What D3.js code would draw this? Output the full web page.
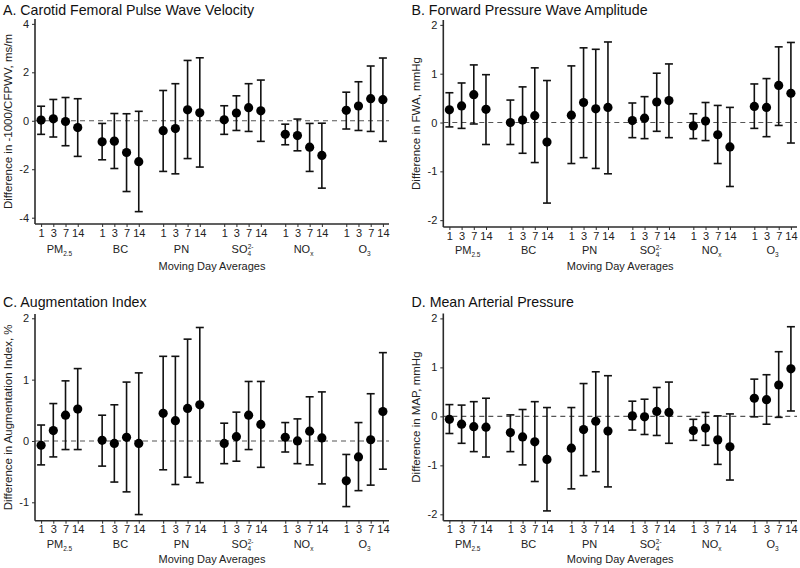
<!DOCTYPE html>
<html><head><meta charset="utf-8">
<script src="https://cdn.jsdelivr.net/npm/d3@7"></script>
<style>
body{margin:0;background:#fff;}
svg{display:block;font-family:"Liberation Sans",Arial,Helvetica,sans-serif;}
</style></head>
<body>
<svg id="chart" width="800" height="568"></svg>
<script>
// ---- data ----
const pollutants = ["PM2.5","BC","PN","SO4","NOx","O3"];
const lags = ["1","3","7","14"];
const yTicksA = [-4,-2,0,2,4];
const yTicksB = [-2,-1,0,1,2];
const yTicksC = [-1,0,1,2];
const yTicksD = [-2,-1,0,1,2];

const cfpwvEst = [0.03,0.08,-0.03,-0.28, -0.87,-0.84,-1.31,-1.69, -0.41,-0.32,0.45,0.33, 0.04,0.32,0.54,0.41, -0.56,-0.61,-1.09,-1.43, 0.43,0.61,0.91,0.87];
const cfpwvLo  = [-0.56,-0.67,-1.03,-1.47, -1.61,-1.97,-2.92,-3.75, -2.09,-2.19,-1.56,-1.91, -0.56,-0.40,-0.44,-0.85, -0.99,-1.24,-2.09,-2.78, -0.34,-0.40,-0.44,-0.85];
const cfpwvHi  = [0.60,0.88,0.96,0.91, -0.11,0.30,0.29,0.39, 1.25,1.53,2.49,2.60, 0.62,1.03,1.53,1.68, -0.14,0.07,-0.11,-0.10, 1.18,1.61,2.26,2.59];

const fwaEst = [0.26,0.34,0.57,0.27, 0.00,0.05,0.14,-0.40, 0.15,0.41,0.28,0.31, 0.04,0.09,0.42,0.45, -0.07,0.03,-0.25,-0.50, 0.33,0.31,0.76,0.60];
const fwaLo  = [-0.09,-0.12,-0.03,-0.45, -0.45,-0.63,-0.82,-1.65, -0.84,-0.72,-0.94,-1.05, -0.31,-0.33,-0.18,-0.31, -0.33,-0.37,-0.84,-1.31, -0.12,-0.29,-0.06,-0.42];
const fwaHi  = [0.61,0.81,1.18,0.98, 0.46,0.73,1.12,0.86, 1.16,1.53,1.50,1.65, 0.40,0.53,1.01,1.20, 0.18,0.41,0.35,0.31, 0.79,0.90,1.55,1.64];

const aixEst = [-0.07,0.17,0.42,0.52, 0.01,-0.04,0.06,-0.04, 0.45,0.33,0.53,0.59, -0.04,0.07,0.42,0.27, 0.06,0.00,0.16,0.05, -0.65,-0.26,0.02,0.48];
const aixLo  = [-0.39,-0.26,-0.14,-0.14, -0.41,-0.67,-0.83,-1.20, -0.47,-0.71,-0.59,-0.68, -0.37,-0.33,-0.14,-0.43, -0.18,-0.37,-0.39,-0.70, -1.07,-0.81,-0.72,-0.46];
const aixHi  = [0.26,0.61,0.98,1.18, 0.42,0.59,0.96,1.11, 1.38,1.38,1.66,1.85, 0.29,0.47,0.97,0.97, 0.30,0.36,0.72,0.80, -0.22,0.30,0.77,1.44];

const mapEst = [-0.06,-0.16,-0.21,-0.22, -0.33,-0.42,-0.52,-0.88, -0.65,-0.27,-0.10,-0.30, 0.01,-0.01,0.10,0.08, -0.29,-0.24,-0.48,-0.62, 0.37,0.34,0.64,0.97];
const mapLo  = [-0.35,-0.55,-0.72,-0.83, -0.72,-0.99,-1.33,-1.93, -1.48,-1.21,-1.13,-1.44, -0.28,-0.37,-0.39,-0.55, -0.49,-0.59,-0.98,-1.30, -0.01,-0.16,-0.02,0.11];
const mapHi  = [0.24,0.23,0.30,0.37, 0.03,0.14,0.30,0.18, 0.18,0.67,0.91,0.83, 0.31,0.35,0.59,0.70, -0.06,0.08,0.01,0.05, 0.76,0.85,1.32,1.83];

// label parts for pollutant names (text, type)
const pollutantLabels = {
  "PM2.5": [["PM",""],["2.5","sub"]],
  "BC": [["BC",""]],
  "PN": [["PN",""]],
  "SO4": [["SO",""],["4","sub"],["2-","sup"]],
  "NOx": [["NO",""],["x","sub"]],
  "O3": [["O",""],["3","sub"]]
};

const panels = [
  {title:"A. Carotid Femoral Pulse Wave Velocity", ylab:"Difference in -1000/CFPWV, ms/m",
   est:cfpwvEst, lo:cfpwvLo, hi:cfpwvHi, ticks:yTicksA, dom:[-4.26,4.2],
   ox:0, oy:0, left:35, right:389, top:19, bottom:224, tOff:14.5, gOff:29, mOff:46},
  {title:"B. Forward Pressure Wave Amplitude", ylab:"Difference in FWA, mmHg",
   est:fwaEst, lo:fwaLo, hi:fwaHi, ticks:yTicksB, dom:[-2.14,2.1],
   ox:400, oy:0, left:43.3, right:397, top:20, bottom:227, tOff:14.5, gOff:27, mOff:43},
  {title:"C. Augmentation Index", ylab:"Difference in Augmentation Index, %",
   est:aixEst, lo:aixLo, hi:aixHi, ticks:yTicksC, dom:[-1.3,2.07],
   ox:0, oy:284, left:35, right:389, top:30, bottom:236.7, tOff:22.5, gOff:27.5, mOff:42.5},
  {title:"D. Mean Arterial Pressure", ylab:"Difference in MAP, mmHg",
   est:mapEst, lo:mapLo, hi:mapHi, ticks:yTicksD, dom:[-2.13,2.1],
   ox:400, oy:284, left:43.3, right:397, top:29.5, bottom:236.7, tOff:22.5, gOff:27.5, mOff:42.5}
];

const svg = d3.select("#chart");
const axisColor = "#2b2b2b";

panels.forEach(p => {
  const g = svg.append("g").attr("transform", `translate(${p.ox},${p.oy})`);
  const x = d3.scaleLinear().domain([-0.5, pollutants.length*5 - 1.5]).range([p.left, p.right]);
  const y = d3.scaleLinear().domain(p.dom).range([p.bottom, p.top]);

  const rows = [];
  pollutants.forEach((pol, gi) => lags.forEach((lag, li) => {
    const k = gi*4 + li;
    rows.push({pos: gi*5 + li, lag, est: p.est[k], lo: p.lo[k], hi: p.hi[k]});
  }));

  // title
  g.append("text").attr("x", p.ox === 0 ? 3 : 11.5).attr("y", p.tOff)
    .attr("font-size", 14.2).attr("fill", "#111").text(p.title);

  // zero line
  g.append("line").attr("x1", p.left).attr("x2", p.right)
    .attr("y1", y(0)).attr("y2", y(0))
    .attr("stroke", "#555").attr("stroke-width", 1.1).attr("stroke-dasharray", "5,4");

  // y axis
  const ya = g.append("g").attr("transform", `translate(${p.left},0)`)
    .call(d3.axisLeft(y).tickValues(p.ticks).tickSize(3).tickPadding(3).tickFormat(d3.format("d")));
  ya.select(".domain").attr("stroke", axisColor).attr("stroke-width", 1.6)
    .attr("d", `M0,${p.top}V${p.bottom}`);
  ya.selectAll(".tick line").attr("stroke", axisColor);
  ya.selectAll(".tick text").attr("font-size", 11).attr("fill", "#222")
    .attr("font-family", "Liberation Sans, Arial, sans-serif")
    .text(d => d < 0 ? "-" + Math.abs(d) : d);

  // x axis
  const xa = g.append("g").attr("transform", `translate(0,${p.bottom})`)
    .call(d3.axisBottom(x).tickValues(rows.map(r => r.pos)).tickSize(3).tickPadding(2)
      .tickFormat((d, i) => rows[i].lag));
  xa.select(".domain").attr("stroke", axisColor).attr("stroke-width", 1.6)
    .attr("d", `M${p.left},0H${p.right}`);
  xa.selectAll(".tick line").attr("stroke", axisColor);
  xa.selectAll(".tick text").attr("font-size", 11).attr("fill", "#222")
    .attr("font-family", "Liberation Sans, Arial, sans-serif");

  // group labels
  pollutants.forEach((pol, gi) => {
    const t = g.append("text").attr("x", x(gi*5 + 1.5)).attr("y", p.bottom + p.gOff)
      .attr("text-anchor", "middle").attr("font-size", 11).attr("fill", "#222");
    pollutantLabels[pol].forEach(([s, type]) => {
      const ts = t.append("tspan").text(s);
      if (type === "sub") ts.attr("font-size", 6.5).attr("dy", 3);
      if (type === "sup") ts.attr("font-size", 6.5).attr("dx", -3.5).attr("dy", -7.5);
    });
  });
  // x axis title
  g.append("text").attr("x", (p.left + p.right)/2).attr("y", p.bottom + p.mOff)
    .attr("text-anchor", "middle").attr("font-size", 11).attr("fill", "#222")
    .text("Moving Day Averages");
  // y axis title
  g.append("text").attr("transform", `translate(${p.left - 23},${(p.top + p.bottom)/2}) rotate(-90)`)
    .attr("text-anchor", "middle").attr("font-size", 11.5).attr("fill", "#222")
    .text(p.ylab);

  // error bars
  const eb = g.append("g").attr("stroke", "#111").attr("stroke-width", 1.6);
  eb.selectAll(".v").data(rows).join("line")
    .attr("x1", d => x(d.pos)).attr("x2", d => x(d.pos))
    .attr("y1", d => y(d.lo)).attr("y2", d => y(d.hi));
  eb.selectAll(".ct").data(rows).join("line").attr("class","ct")
    .attr("x1", d => x(d.pos) - 4).attr("x2", d => x(d.pos) + 4)
    .attr("y1", d => y(d.hi)).attr("y2", d => y(d.hi));
  eb.selectAll(".cb").data(rows).join("line").attr("class","cb")
    .attr("x1", d => x(d.pos) - 4).attr("x2", d => x(d.pos) + 4)
    .attr("y1", d => y(d.lo)).attr("y2", d => y(d.lo));

  // points
  g.append("g").selectAll("circle").data(rows).join("circle")
    .attr("cx", d => x(d.pos)).attr("cy", d => y(d.est)).attr("r", 4.6)
    .attr("fill", "#000");
});
</script>
</body></html>
